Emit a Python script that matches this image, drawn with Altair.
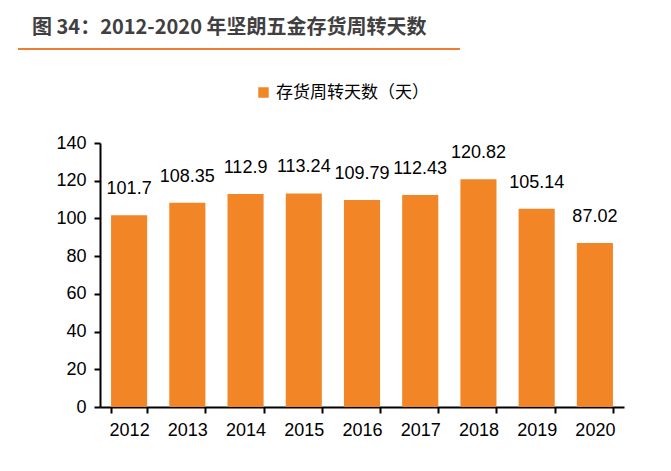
import altair as alt
import pandas as pd

years = ["2012", "2013", "2014", "2015", "2016", "2017", "2018", "2019", "2020"]
days = [101.7, 108.35, 112.9, 113.24, 109.79, 112.43, 120.82, 105.14, 87.02]
labels = ["101.7", "108.35", "112.9", "113.24", "109.79", "112.43", "120.82", "105.14", "87.02"]
y_ticks = [0, 20, 40, 60, 80, 100, 120, 140]
series_name = "存货周转天数（天）"
title_text = "图 34：2012-2020 年坚朗五金存货周转天数"

df = pd.DataFrame({"year": years, "days": days, "label": labels, "series": series_name})
one = pd.DataFrame({"k": [0]})

ORANGE = "#F28627"
NUM_FONT = "Liberation Sans"
CJK_FONT = "Noto Sans CJK SC"

x = alt.X("year:N", title=None,
          scale=alt.Scale(paddingInner=0.38, paddingOuter=0.19),
          axis=alt.Axis(labelAngle=0, labelFontSize=18, labelFont=NUM_FONT, labelColor="#000000",
                        domainColor="#000000", domainWidth=2, tickColor="#000000", tickWidth=2,
                        tickSize=6, labelPadding=8, tickBand="extent", grid=False, labelOverlap=False))
y = alt.Y("days:Q", title=None,
          scale=alt.Scale(domain=[0, 140], nice=False),
          axis=alt.Axis(values=y_ticks, labelFontSize=18, labelFont=NUM_FONT,
                        labelColor="#000000", domainColor="#000000", domainWidth=2, tickColor="#000000",
                        tickWidth=2, tickSize=6, labelPadding=8, grid=False, labelOverlap=False,
                        labelFlush=False, labelBound=False))

base = alt.Chart(df).encode(x=x, y=y)

bars = base.mark_bar().encode(
    color=alt.Color("series:N", scale=alt.Scale(range=[ORANGE]),
                    legend=alt.Legend(orient="none", legendX=155, legendY=-59, title=None,
                                      symbolType="square", symbolSize=110, symbolStrokeWidth=0,
                                      labelFont=CJK_FONT, labelFontSize=17, labelColor="#000000",
                                      labelOffset=4))
)

text = base.mark_text(baseline="bottom", dy=-17, fontSize=18, font=NUM_FONT, color="#000000").encode(
    text="label:N"
)

title = alt.Chart(one).mark_text(align="left", baseline="middle", fontSize=20, font=CJK_FONT,
                                  fontWeight="bold", color="#404040").encode(
    x=alt.value(-68), y=alt.value(-115), text=alt.value(title_text)
)

top_line = alt.Chart(one).mark_rule(color="#ED7D31", strokeWidth=2).encode(
    x=alt.value(-82), x2=alt.value(360), y=alt.value(-94)
)
bottom_line = alt.Chart(one).mark_rule(color="#ED7D31", strokeWidth=2).encode(
    x=alt.value(-82), x2=alt.value(570), y=alt.value(322)
)

chart = alt.layer(bars, text, title, top_line, bottom_line).properties(
    width=524, height=264,
    autosize=alt.AutoSizeParams(type="none"),
    padding={"left": 92, "top": 135, "right": 39, "bottom": 56},
).configure(background="#FFFFFF").configure_view(strokeWidth=0, stroke="transparent").configure_axis(
    labelOverlap=False
)

chart.save("out.html", embed_options={"renderer": "svg", "actions": False})
